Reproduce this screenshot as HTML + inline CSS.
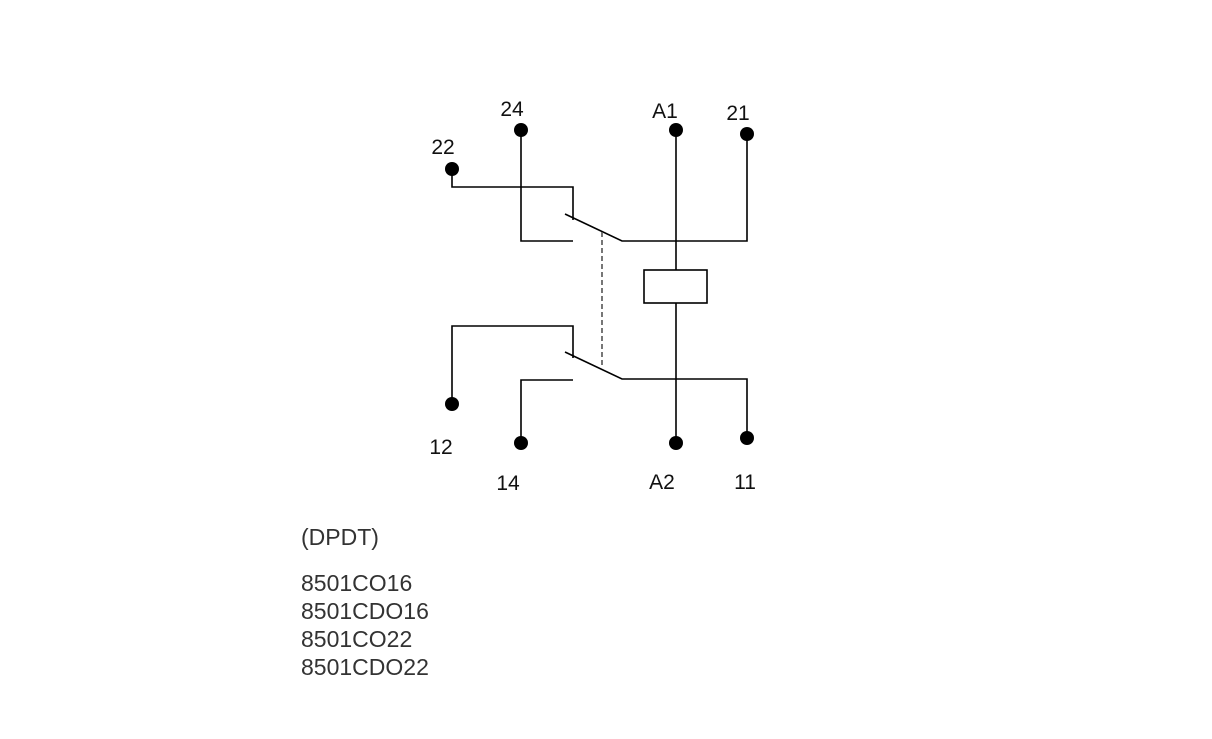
<!DOCTYPE html>
<html><head><style>
body{margin:0;background:#fff;width:1212px;height:739px;overflow:hidden;}
svg{position:absolute;left:0;top:0}
.t{position:absolute;left:301px;font-family:"Liberation Sans",sans-serif;font-size:23px;color:#333;line-height:28px}
</style></head><body>
<svg width="1212" height="739" viewBox="0 0 1212 739">
<g stroke="#000" stroke-width="1.6" fill="none">
<polyline points="452,169 452,187 573,187 573,220"/>
<polyline points="521,130 521,241 573,241"/>
<polyline points="565,214 622,241 747,241 747,134"/>
<line x1="676" y1="130" x2="676" y2="270"/>
<rect x="644" y="270" width="63" height="33"/>
<line x1="676" y1="303" x2="676" y2="443"/>
<polyline points="452,404 452,326 573,326 573,358"/>
<polyline points="521,443 521,380 573,380"/>
<polyline points="565,352 622,379 747,379 747,438"/>
<line x1="602" y1="232" x2="602" y2="368" stroke="#555" stroke-dasharray="5,3"/>
</g>
<g fill="#000">
<circle cx="521" cy="130" r="7"/><circle cx="676" cy="130" r="7"/><circle cx="747" cy="134" r="7"/><circle cx="452" cy="169" r="7"/>
<circle cx="452" cy="404" r="7"/><circle cx="521" cy="443" r="7"/><circle cx="676" cy="443" r="7"/><circle cx="747" cy="438" r="7"/>
</g>
<g font-family="Liberation Sans, sans-serif" font-size="21" fill="#111" text-anchor="middle">
<text x="512" y="116">24</text><text x="665" y="118">A1</text><text x="738" y="120">21</text><text x="443" y="154">22</text>
<text x="441" y="454">12</text><text x="508" y="490">14</text><text x="662" y="489">A2</text><text x="745" y="489">11</text>
</g>
</svg>
<div class="t" style="top:523px">(DPDT)</div>
<div class="t" style="top:569px">8501CO16<br>8501CDO16<br>8501CO22<br>8501CDO22</div>
</body></html>
